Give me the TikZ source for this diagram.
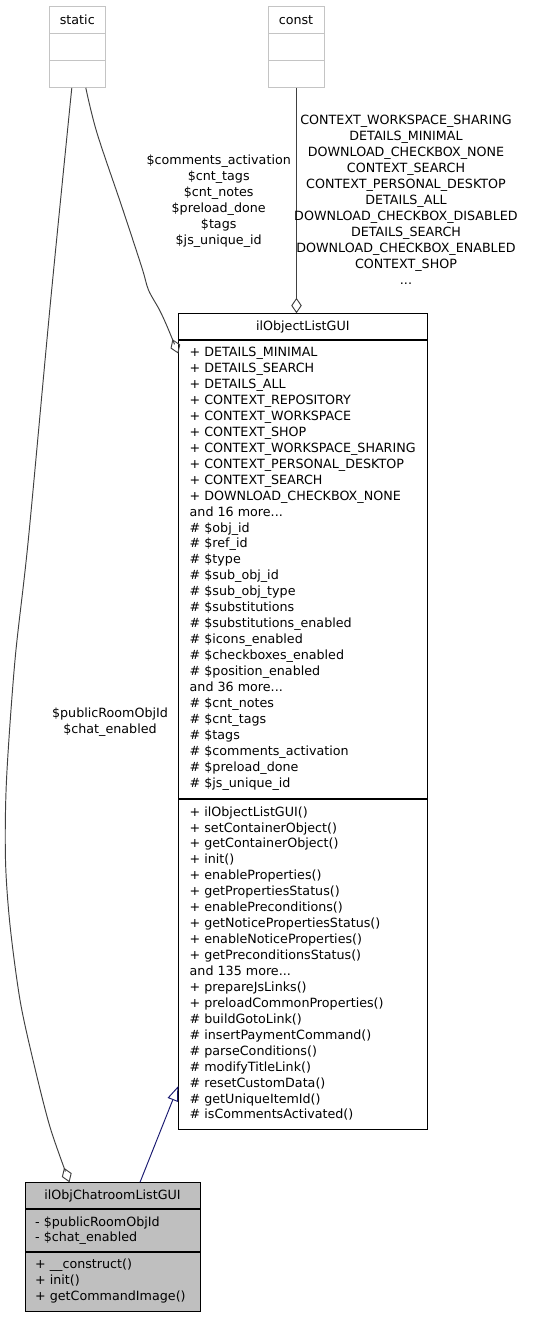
\documentclass[tikz,border=0pt]{standalone}
\usepackage{fontspec}
\setmainfont{DejaVu Sans}
\usetikzlibrary{arrows.meta,calc}
\definecolor{edgegray}{HTML}{404040}
\definecolor{inhnavy}{HTML}{191970}
\definecolor{boxgray}{HTML}{BFBFBF}
\definecolor{lightframe}{HTML}{C4C4C4}
\newcommand{\tdots}{...}
\begin{document}
\begin{tikzpicture}[x=1pt,y=-1pt,
  font=\fontsize{12.7}{16}\selectfont,
  txt/.style={inner sep=0pt, anchor=base west},
  ctxt/.style={inner sep=0pt, anchor=base},
  lightbox/.style={draw=lightframe, line width=1pt, fill=white, inner sep=0pt, anchor=north west},
  lightsep/.style={draw=lightframe, line width=1.4pt},
  classbox/.style={draw=black, line width=1pt, fill=white, inner sep=0pt, anchor=north west},
  grayclass/.style={draw=black, line width=1pt, fill=boxgray, inner sep=0pt, anchor=north west},
  classsep/.style={draw=black, line width=1.7pt},
  agg/.style={draw=edgegray, line width=0.95pt, -{Diamond[open, length=15.5pt, width=10.5pt, line width=0.95pt]}},
  inh/.style={draw=inhnavy, line width=0.95pt, -{Triangle[open, length=15pt, width=11pt, line width=0.95pt]}}
]
\useasboundingbox (0,0) rectangle (535,1317);

% ---------- static ----------
\node[lightbox, minimum width=56, minimum height=80.5] (stat) at (49.3,6.3) {};
\draw[lightsep] ($(stat.north west)+(0,27)$) -- ($(stat.north east)+(0,27)$);
\draw[lightsep] ($(stat.north west)+(0,54)$) -- ($(stat.north east)+(0,54)$);
\node[ctxt] (statT) at (77.3,24) {static};

% ---------- const ----------
\node[lightbox, minimum width=56, minimum height=80.5] (cnst) at (268,6.3) {};
\draw[lightsep] ($(cnst.north west)+(0,27)$) -- ($(cnst.north east)+(0,27)$);
\draw[lightsep] ($(cnst.north west)+(0,54)$) -- ($(cnst.north east)+(0,54)$);
\node[ctxt] (cnstT) at (296,24) {const};

% ---------- ilObjectListGUI ----------
\node[classbox, minimum width=249, minimum height=815.7] (olg) at (178.3,313.3) {};
\draw[classsep] ($(olg.north west)+(0,26.7)$) -- ($(olg.north east)+(0,26.7)$);
\draw[classsep] ($(olg.north west)+(0,486)$) -- ($(olg.north east)+(0,486)$);
\node[ctxt] (olgT) at (302.8,330.3) {ilObjectListGUI};
\foreach \t [count=\i from 0] in {
  + DETAILS\_MINIMAL, + DETAILS\_SEARCH, + DETAILS\_ALL, + CONTEXT\_REPOSITORY,
  + CONTEXT\_WORKSPACE, + CONTEXT\_SHOP, + CONTEXT\_WORKSPACE\_SHARING,
  + CONTEXT\_PERSONAL\_DESKTOP, + CONTEXT\_SEARCH, + DOWNLOAD\_CHECKBOX\_NONE,
  and 16 more\tdots, \# \$obj\_id, \# \$ref\_id, \# \$type, \# \$sub\_obj\_id,
  \# \$sub\_obj\_type, \# \$substitutions, \# \$substitutions\_enabled,
  \# \$icons\_enabled, \# \$checkboxes\_enabled, \# \$position\_enabled,
  and 36 more\tdots, \# \$cnt\_notes, \# \$cnt\_tags, \# \$tags,
  \# \$comments\_activation, \# \$preload\_done, \# \$js\_unique\_id}
  \node[txt] (olgA\i) at (189.5,{356.7+15.94*\i}) {\t};
\foreach \t [count=\i from 0] in {
  + ilObjectListGUI(), + setContainerObject(), + getContainerObject(), + init(),
  + enableProperties(), + getPropertiesStatus(), + enablePreconditions(),
  + getNoticePropertiesStatus(), + enableNoticeProperties(),
  + getPreconditionsStatus(), and 135 more\tdots, + prepareJsLinks(),
  + preloadCommonProperties(), \# buildGotoLink(), \# insertPaymentCommand(),
  \# parseConditions(), \# modifyTitleLink(), \# resetCustomData(),
  \# getUniqueItemId(), \# isCommentsActivated()}
  \node[txt] (olgM\i) at (189.5,{816.1+15.94*\i}) {\t};

% ---------- ilObjChatroomListGUI ----------
\node[grayclass, minimum width=175, minimum height=128.4] (chat) at (25,1182.3) {};
\draw[classsep] ($(chat.north west)+(0,27)$) -- ($(chat.north east)+(0,27)$);
\draw[classsep] ($(chat.north west)+(0,70)$) -- ($(chat.north east)+(0,70)$);
\node[ctxt] (chatT) at (112.5,1199.5) {ilObjChatroomListGUI};
\foreach \t [count=\i from 0] in {- \$publicRoomObjId, - \$chat\_enabled}
  \node[txt] (chatA\i) at (35,{1226+15.94*\i}) {\t};
\foreach \t [count=\i from 0] in {+ \_\_construct(), + init(), + getCommandImage()}
  \node[txt] (chatM\i) at (35,{1268.5+15.94*\i}) {\t};

% ---------- connectors ----------
% const -> ilObjectListGUI
\coordinate (cS) at (cnst.south);
\draw[agg] (cS) -- (cS |- olg.north);

% static -> ilObjectListGUI
\coordinate (sA) at ([xshift=8pt]stat.south);
\coordinate (eA) at ($(olg.north west)+(0,40.3)$);
\draw[agg] plot[smooth, tension=0.55] coordinates {(sA) (97,133) (123,210) (142,268) (148.5,290) (159,309) (166.5,325) (eA)};

% static -> ilObjChatroomListGUI
\coordinate (sB) at ([xshift=-6pt]stat.south);
\coordinate (eB) at ($(chat.north west)+(44.5,0)$);
\draw[agg] plot[smooth, tension=0.5] coordinates {(sB) (50.7,300) (28.3,540) (15,660) (6.5,780) (5.5,860) (10,925) (20,1000) (33,1060) (50,1127) (eB)};

% inheritance ilObjChatroomListGUI -> ilObjectListGUI
\coordinate (sC) at ($(chat.north west)+(115,0)$);
\coordinate (eC) at ($(olg.south west)+(0,-44)$);
\draw[inh] (sC) -- (eC);

% ---------- edge labels ----------
\foreach \t [count=\i from 0] in {CONTEXT\_WORKSPACE\_SHARING, DETAILS\_MINIMAL,
  DOWNLOAD\_CHECKBOX\_NONE, CONTEXT\_SEARCH, CONTEXT\_PERSONAL\_DESKTOP,
  DETAILS\_ALL, DOWNLOAD\_CHECKBOX\_DISABLED, DETAILS\_SEARCH,
  DOWNLOAD\_CHECKBOX\_ENABLED, CONTEXT\_SHOP, \tdots}
  \node[ctxt] (lblC\i) at (406,{124+16*\i}) {\t};
\foreach \t [count=\i from 0] in {\$comments\_activation, \$cnt\_tags, \$cnt\_notes,
  \$preload\_done, \$tags, \$js\_unique\_id}
  \node[ctxt] (lblS\i) at (218.7,{164.3+16*\i}) {\t};
\foreach \t [count=\i from 0] in {\$publicRoomObjId, \$chat\_enabled}
  \node[ctxt] (lblP\i) at (110,{717+16*\i}) {\t};
\end{tikzpicture}
\end{document}
